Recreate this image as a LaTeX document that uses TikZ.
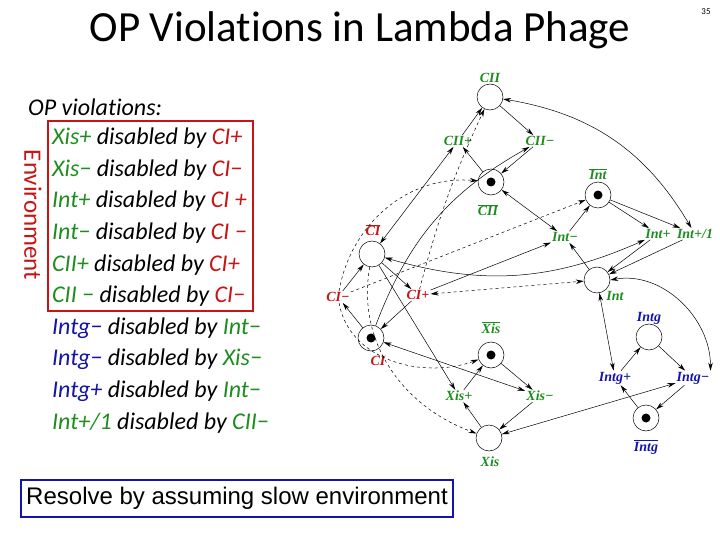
\documentclass[tikz,border=0pt]{standalone}
\usepackage{fontspec}
\setmainfont[Ligatures={NoCommon}]{Carlito}
\newfontfamily\tnr{Liberation Serif}
\newfontfamily\arial{Liberation Sans}
\usetikzlibrary{arrows.meta}
\definecolor{pgreen}{RGB}{30,140,30}
\definecolor{pred}{RGB}{200,20,20}
\definecolor{pblue}{RGB}{20,20,170}
\begin{document}
\begin{tikzpicture}[x=1pt,y=-1pt,
  pl/.style={circle,draw,minimum size=26pt,inner sep=0pt,line width=0.5pt},
  mk/.style={pl,path picture={\fill (path picture bounding box.center) circle (4.5pt);}},
  tr/.style={font=\tnr\itshape\bfseries\fontsize{14}{14}\selectfont,inner sep=1pt},
  lb/.style={font=\tnr\itshape\bfseries\fontsize{14}{14}\selectfont,inner sep=1pt},
  ar/.style={-{Stealth[length=8pt,width=4.5pt]},line width=0.5pt},
  ba/.style={{Stealth[length=8pt,width=4.5pt]}-{Stealth[length=8pt,width=4.5pt]},line width=0.5pt},
  da/.style={ar,dashed},
  txt/.style={anchor=west,font=\itshape\fontsize{24}{24}\selectfont,inner sep=0pt}]
\useasboundingbox (0,0) rectangle (720,540);
\node (title) at (360,30) {\fontsize{43}{43}\selectfont OP Violations in Lambda Phage};
\node (pg) at (706,12) {\fontsize{9}{9}\selectfont 35};
% left text
\node[txt] (t0) at (28,107) {OP violations:};
\node[txt] (t1) at (52,138) {\textcolor{pgreen}{Xis+} disabled by \textcolor{pred}{CI+}};
\node[txt] (t2) at (52,170) {\textcolor{pgreen}{Xis−} disabled by \textcolor{pred}{CI−}};
\node[txt] (t3) at (52,201) {\textcolor{pgreen}{Int+} disabled by \textcolor{pred}{CI +}};
\node[txt] (t4) at (52,233) {\textcolor{pgreen}{Int−} disabled by \textcolor{pred}{CI −}};
\node[txt] (t5) at (52,265) {\textcolor{pgreen}{CII+} disabled by \textcolor{pred}{CI+}};
\node[txt] (t6) at (52,296) {\textcolor{pgreen}{CII −} disabled by \textcolor{pred}{CI−}};
\node[txt] (t7) at (52,328) {\textcolor{pblue}{Intg−} disabled by \textcolor{pgreen}{Int−}};
\node[txt] (t8) at (52,359) {\textcolor{pblue}{Intg−} disabled by \textcolor{pgreen}{Xis−}};
\node[txt] (t9) at (52,391) {\textcolor{pblue}{Intg+} disabled by \textcolor{pgreen}{Int−}};
\node[txt] (t10) at (52,423) {\textcolor{pgreen}{Int+/1} disabled by \textcolor{pgreen}{CII−}};
\draw[pred,line width=2pt] (48,121) rectangle (253,311);
\node[rotate=-90,text=pred,font=\fontsize{25}{25}\selectfont] (env) at (33,215) {Environment};
\node[draw=pblue,line width=2pt,font=\arial\fontsize{24}{24}\selectfont,inner xsep=5pt,minimum height=37pt] (res) at (237,498) {Resolve by assuming slow environment};
% places
\node[pl] (CII) at (490,97) {};
\node[mk] (CIIb) at (491,182) {};
\node[mk] (Intb) at (598,195) {};
\node[pl] (CI) at (372,254) {};
\node[pl] (Int) at (597,280) {};
\node[mk] (CIm) at (371,338) {};
\node[mk] (Xisb) at (491,355) {};
\node[pl] (Intg) at (649,337) {};
\node[pl] (Xis) at (489,438) {};
\node[mk] (Intgb) at (646,418) {};
% place labels
\node[lb,text=pgreen] (lCII) at (490,78) {CII};
\node[lb,text=pgreen] (lCIIb) at (488,210) {$\overline{\mbox{\tnr\itshape\bfseries CII}}$};
\node[lb,text=pgreen] (lIntb) at (598,174) {$\overline{\mbox{\tnr\itshape\bfseries Int}}$};
\node[lb,text=pred] (lCI) at (373,230) {$\overline{\mbox{\tnr\itshape\bfseries CI}}$};
\node[lb,text=pgreen] (lInt) at (615,296) {Int};
\node[lb,text=pred] (lCIm) at (378,361) {CI};
\node[lb,text=pgreen] (lXisb) at (491,328) {$\overline{\mbox{\tnr\itshape\bfseries Xis}}$};
\node[lb,text=pblue] (lIntg) at (649,318) {Intg};
\node[lb,text=pgreen] (lXis) at (490,462) {Xis};
\node[lb,text=pblue] (lIntgb) at (646,447) {$\overline{\mbox{\tnr\itshape\bfseries Intg}}$};
% transitions
\node[tr,text=pgreen] (CIIp) at (458,141) {CII+};
\node[tr,text=pgreen] (CIIm) at (540,141) {CII−};
\node[tr,text=pgreen] (Intm) at (565,237) {Int−};
\node[tr,text=pgreen] (Intp) at (658,234) {Int+};
\node[tr,text=pgreen] (Intp1) at (695,234) {Int+/1};
\node[tr,text=pred] (CIm-) at (338,297) {CI−};
\node[tr,text=pred] (CIp) at (418,295) {CI+};
\node[tr,text=pgreen] (Xisp) at (459,396) {Xis+};
\node[tr,text=pgreen] (Xism) at (540,396) {Xis−};
\node[tr,text=pblue] (Intgp) at (615,378) {Intg+};
\node[tr,text=pblue] (Intgm) at (693,378) {Intg−};
% solid arcs
\draw[ar] (CIIp) -- (CII);
\draw[ar] (CII) -- (CIIm);
\draw[ar] (CIIb) -- (CIIp);
\draw[ar] (CIIm) -- (CIIb);
\draw[ba] (CIIb) -- (Intm);
\draw[ar] (Intm) -- (Intb);
\draw[ar] (Intb) -- (Intp);
\draw[ar] (Intb) -- (Intp1);
\draw[ba] (CII) to[bend left=25] (Intp1);
\draw[ar] (Intp) -- (Int);
\draw[ar] (Intp1) -- (Int);
\draw[ar] (Int) -- (Intm);
\draw[ba] (CI) to[bend right=20] (Intp);
\draw[ba] (CIIp) -- (CI);
\draw[ar] (CI) -- (CIp);
\draw[ar] (CIm-) -- (CI);
\draw[ar] (CIm) -- (CIm-);
\draw[ar] (CIp) -- (CIm);
\draw[ba] (CIm) -- (Xism);
\draw[ar] (CI) -- (Xisp);
\draw[ar] (Xisp) -- (Xisb);
\draw[ar] (Xisb) -- (Xism);
\draw[ar] (Xism) -- (Xis);
\draw[ar] (Xis) -- (Xisp);
\draw[ba] (Xis) -- (Intgm);
\draw[ba] (Int) -- (Intgp);
\draw[ba] (Int.east) to[out=10,in=90] (Intgm.north east);
\draw[ar] (Intgp) -- (Intg);
\draw[ar] (Intg) -- (Intgm);
\draw[ar] (Intgm) -- (Intgb);
\draw[ar] (Intgb) -- (Intgp);
\draw[ar] (CIm) to[bend left=20] (CIIm);
\draw[ar] (CIp) -- (Intm);
% dashed arcs
\draw[da] (CIm-) to[out=80,in=175] (CIIb);
\draw[da] (CIp) to[bend left=5] (CII);
\draw[da] (CIm-) -- (Intb);
\draw[da,{Stealth[length=8pt,width=4.5pt]}-{Stealth[length=8pt,width=4.5pt]}] (CIp) -- (Int);
\draw[da] (CIm-) to[out=-80,in=200] (Xisb);
\draw[da] (CI) to[out=-100,in=160] (Xis);
\end{tikzpicture}
\end{document}
